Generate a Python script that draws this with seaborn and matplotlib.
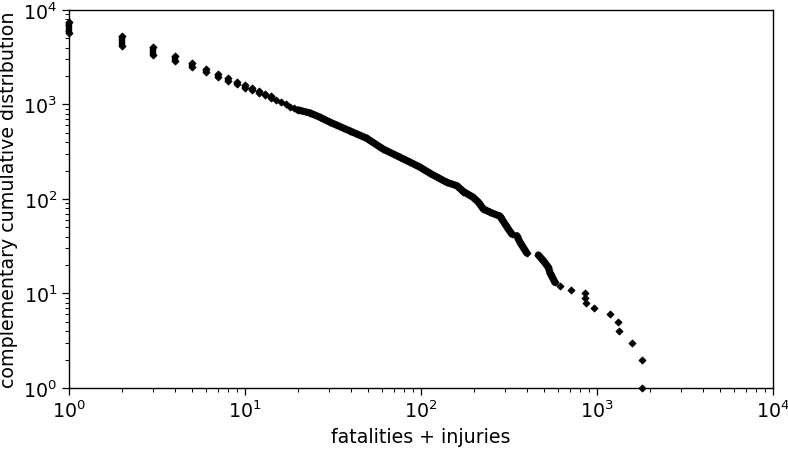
import numpy as np
import pandas as pd
import matplotlib
matplotlib.use('Agg')
import matplotlib.pyplot as plt
import seaborn as sns

# valori (CCDF, scala log-log)
# x interi con tratto verticale: (valore alto, valore basso)
step_x = [1, 2, 3, 4, 5, 6, 7, 8, 9, 10, 11, 12, 13, 14]
step_hi = [7380, 5370, 4010, 3260, 2750, 2375, 2100, 1907, 1750, 1608, 1480, 1390, 1306, 1230]
step_lo = [5710, 4160, 3380, 2885, 2495, 2210, 1955, 1773, 1648, 1495, 1423, 1324, 1245, 1172]

single_x = [15, 16, 17, 18, 19]
single_y = [1116, 1050, 1000, 952, 907]

# tratti densi della curva
curve_a_x = [20, 23.4, 26.7, 30.4, 39.5, 49.1, 60.8, 76, 86.6, 98.7, 112.5, 140, 160,
             174, 198, 212, 226, 247, 281, 300, 313, 328]
curve_a_y = [875, 813, 732, 649, 524, 439, 338, 276, 245, 217, 187, 150, 138,
             120, 104, 92.3, 78.4, 72.3, 65.6, 54.4, 48.2, 42.6]
curve_b_x = [350, 365, 399]
curve_b_y = [40.9, 34.8, 26.8]
curve_c_x = [464, 496, 529, 541, 577]
curve_c_y = [25.5, 22.2, 18.9, 16.5, 13.1]

# coda
tail_x = [617, 709, 856, 856, 862, 966, 1186, 1312, 1328, 1575, 1795, 1795]
tail_y = [12, 11, 10, 9, 8, 7, 6, 5, 4, 3, 2, 1]

sns.set_theme(style='ticks')
plt.rcParams['font.family'] = ['DejaVu Sans']
plt.rcParams.update({
    'axes.edgecolor': 'black',
    'axes.linewidth': 1.0,
    'text.color': 'black',
    'axes.labelcolor': 'black',
    'xtick.color': 'black',
    'ytick.color': 'black',
    'xtick.major.size': 5, 'ytick.major.size': 5,
    'xtick.minor.size': 2.8, 'ytick.minor.size': 2.8,
    'xtick.major.width': 0.9, 'ytick.major.width': 0.9,
    'xtick.minor.width': 0.7, 'ytick.minor.width': 0.7,
})

points = pd.DataFrame({
    'x': step_x + step_x + single_x + curve_a_x + curve_b_x + curve_c_x + tail_x,
    'y': step_hi + step_lo + single_y + curve_a_y + curve_b_y + curve_c_y + tail_y,
})

fig, ax = plt.subplots(figsize=(7.88, 4.52), dpi=100)
fig.subplots_adjust(left=0.0876, right=0.981, top=0.9757, bottom=0.1394)

ax.vlines(step_x, step_lo, step_hi, color='black', lw=4.6, clip_on=False)
for cx, cy in [(curve_a_x, curve_a_y), (curve_b_x, curve_b_y), (curve_c_x, curve_c_y)]:
    ax.plot(cx, cy, color='black', lw=5.2, solid_capstyle='round',
            solid_joinstyle='round')

sns.scatterplot(data=points, x='x', y='y', marker='D', color='black', s=13,
                edgecolor='black', linewidth=0.6, clip_on=False, ax=ax, zorder=3)

ax.set_xscale('log')
ax.set_yscale('log')
ax.set_xlim(1, 1e4)
ax.set_ylim(1, 1e4)
ax.set_xlabel('fatalities + injuries', fontsize=13.7)
ax.set_ylabel('complementary cumulative distribution', fontsize=13.7)
ax.tick_params(axis='both', which='major', labelsize=13.7)

plt.savefig('out.png', dpi=100)
